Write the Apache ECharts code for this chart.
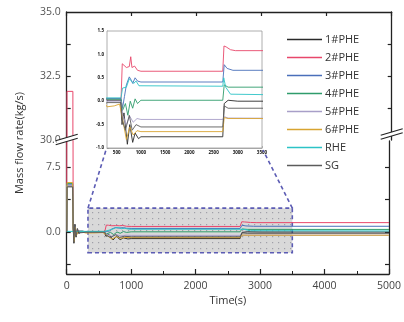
<!DOCTYPE html>
<html><head><meta charset="utf-8">
<script src="https://cdn.jsdelivr.net/npm/echarts@6/dist/echarts.min.js"></script>
<style>html,body{margin:0;padding:0;background:#fff}#c{width:404px;height:322px}</style>
</head><body><div id="c"></div>
<script>
// ---- data (time s, mass flow rate kg/s) ----
const seriesNames = ['1#PHE','2#PHE','3#PHE','4#PHE','5#PHE','6#PHE','RHE','SG'];
const seriesColors = ['#2a2a2a','#e8476b','#4a6fba','#2f9c6b','#a89fc8','#d8a431','#2cc3c6','#5c5c5c'];
const phe1 = [[0,0],[6,5.3],[92,5.3],[100,0.8],[112,-1.3],[128,0.9],[145,-0.6],[165,0.4],[190,-0.2],[230,0.1],[300,0.02],[580,0.02],[610,-0.5],[650,-0.25],[720,-0.92],[770,-0.5],[830,-0.88],[880,-0.68],[950,-0.8],[1000,-0.76],[2690,-0.76],[2720,-0.05],[2800,0.02],[3000,0.0],[5000,0.0]];
const phe2 = [[0,0],[5,31.9],[95,31.9],[100,0.5],[115,-0.8],[130,0.6],[150,-0.3],[180,0.2],[220,0.0],[300,0.05],[590,0.05],[615,0.8],[650,0.78],[700,0.72],[760,0.74],[790,0.95],[815,0.72],[870,0.75],[930,0.66],[1000,0.64],[2690,0.64],[2715,1.18],[2760,1.16],[2850,1.1],[2950,1.08],[5000,1.08]];
const phe3 = [[0,0],[6,5.5],[92,5.5],[100,0.6],[112,-1.0],[128,0.7],[148,-0.4],[170,0.25],[200,-0.05],[300,0.06],[590,0.06],[620,-0.15],[660,0.1],[700,0.35],[760,0.52],[800,0.45],[830,0.38],[880,0.5],[930,0.43],[1000,0.41],[2690,0.41],[2720,0.78],[2780,0.7],[2900,0.66],[5000,0.66]];
const phe4 = [[0,0],[6,5.6],[92,5.6],[100,0.4],[115,-0.9],[130,0.5],[150,-0.3],[180,0.15],[300,0.04],[590,0.04],[620,-0.2],[680,-0.05],[730,-0.3],[780,0.0],[830,-0.15],[880,0.05],[930,-0.05],[1000,0.02],[2690,0.02],[2720,0.35],[2800,0.3],[5000,0.3]];
const phe5 = [[0,0],[6,5.4],[92,5.4],[100,0.5],[113,-0.9],[130,0.5],[150,-0.35],[175,0.2],[300,0.0],[590,0.0],[625,-0.3],[700,-0.5],[770,-0.32],[840,-0.45],[920,-0.37],[1000,-0.39],[2690,-0.39],[2720,-0.33],[2800,-0.36],[5000,-0.37]];
const phe6 = [[0,0],[6,5.7],[92,5.7],[100,0.3],[114,-1.1],[132,0.6],[152,-0.4],[180,0.1],[300,-0.12],[450,-0.1],[560,-0.06],[590,-0.06],[625,-0.4],[700,-0.82],[770,-0.55],[840,-0.72],[920,-0.63],[1000,-0.65],[2690,-0.65],[2720,-0.35],[2800,-0.37],[5000,-0.37]];
const rhe  = [[0,0.07],[300,0.07],[590,0.07],[620,0.28],[700,0.3],[760,0.48],[800,0.52],[850,0.38],[900,0.43],[960,0.33],[1000,0.32],[2690,0.32],[2710,0.5],[2750,0.3],[2850,0.15],[5000,0.12]];
const sg   = [[0,0],[6,5.2],[92,5.2],[100,1.0],[110,-1.2],[126,0.8],[144,-0.5],[166,0.3],[200,-0.1],[300,-0.03],[590,-0.03],[615,-0.4],[680,-0.62],[760,-0.3],[820,-0.62],[900,-0.5],[1000,-0.55],[2690,-0.55],[2720,-0.1],[2800,-0.15],[5000,-0.15]];
const seriesData = [phe1, phe2, phe3, phe4, phe5, phe6, rhe, sg];
const xTicksMain = [0,1000,2000,3000,4000,5000];
const upperLabels = [30, 32.5, 35];
const upperTicks = [31.25, 32.5, 33.75];
const lowerLabels = [0, 7.5];
const lowerTicks = [-3.75, 0, 3.75, 7.5];
const insetXLabels = [500,1000,1500,2000,2500,3000,3500];
const insetYLabels = [-1.0,-0.5,0.0,0.5,1.0,1.5];
const zoomBox = {x0:330, x1:3500, y0:-2.4, y1:2.75};

// ---- layout ----
const FONT = 'Open Sans';
const L = 66.7, R = 12.3;
const UP = {top:12, height:128};
const LOW = {top:141, height:133};
const INSET = {left:107, top:31, width:155, height:117};
const axisLineStyle = {color:'#222', width:1.3};

const pc = document.createElement('canvas'); pc.width = 6; pc.height = 6;
const pctx = pc.getContext('2d');
pctx.fillStyle = '#d9d9d9'; pctx.fillRect(0,0,6,6);
pctx.fillStyle = '#a0a0a8'; pctx.fillRect(2,2,1.2,1.2);

const chart = echarts.init(document.getElementById('c'), null, {renderer:'canvas'});

const fmt1 = v => Number(v).toFixed(1);
const fmt0 = v => String(Math.round(v));
const yBase = (gridIndex, min, max, labels, ticks, showLabel, pos) => ({
  gridIndex, type:'value', min, max, position: pos,
  splitLine:{show:false},
  axisLine:{show:true, onZero:false, lineStyle:axisLineStyle},
  axisTick:{show:true, inside:true, length:4, customValues:ticks, lineStyle:{color:'#222', width:1.2}},
  axisLabel:{show:showLabel, customValues:labels, formatter:fmt1, fontSize:10.5, color:'#555', fontFamily:FONT, margin:6}
});

const option = {
  animation:false,
  backgroundColor:'#fff',
  grid:[
    {left:L, right:R, top:UP.top, height:UP.height},
    {left:L, right:R, top:LOW.top, height:LOW.height},
    {left:INSET.left, top:INSET.top, width:INSET.width, height:INSET.height, show:true, backgroundColor:'#fff', borderColor:'#9a9a9a', borderWidth:0.8, z:5}
  ],
  xAxis:[
    {gridIndex:0, type:'value', min:0, max:5000, interval:1000, position:'top',
     splitLine:{show:false}, axisLine:{show:true, onZero:false, lineStyle:axisLineStyle},
     axisTick:{show:true, inside:true, length:4, lineStyle:{color:'#222', width:1.2}}, axisLabel:{show:false}},
    {gridIndex:1, type:'value', min:0, max:5000, interval:1000, position:'bottom',
     name:'Time(s)', nameLocation:'middle', nameGap:21,
     nameTextStyle:{fontSize:11, color:'#333', fontFamily:FONT},
     splitLine:{show:false}, axisLine:{show:true, onZero:false, lineStyle:axisLineStyle},
     axisTick:{show:true, inside:true, length:5, lineStyle:{color:'#222', width:1.2}},
     minorTick:{show:true, splitNumber:2, length:3, lineStyle:{color:'#222', width:1}},
     axisLabel:{formatter:fmt0, fontSize:10.5, color:'#444', fontFamily:FONT, margin:7}},
    {gridIndex:2, type:'value', min:300, max:3500, position:'bottom',
     splitLine:{show:false}, axisLine:{show:true, onZero:false, lineStyle:{color:'#9a9a9a', width:0.8}},
     axisTick:{show:true, inside:true, length:2, customValues:insetXLabels, lineStyle:{color:'#888', width:0.6}},
     axisLabel:{customValues:insetXLabels, formatter:fmt0, fontSize:4.5, fontWeight:'bold', color:'#111', fontFamily:FONT, margin:2}}
  ],
  yAxis:[
    yBase(0, 30, 35, upperLabels, upperTicks, true, 'left'),
    yBase(0, 30, 35, upperLabels, upperTicks, false, 'right'),
    yBase(1, -(274-232)/8.667, (232-LOW.top)/8.667, lowerLabels, lowerTicks, true, 'left'),
    yBase(1, -(274-232)/8.667, (232-LOW.top)/8.667, lowerLabels, lowerTicks, false, 'right'),
    {gridIndex:2, type:'value', min:-1, max:1.5, interval:0.5, position:'left',
     splitLine:{show:false}, axisLine:{show:true, onZero:false, lineStyle:{color:'#9a9a9a', width:0.8}},
     axisTick:{show:true, inside:true, length:2, lineStyle:{color:'#888', width:0.6}},
     axisLabel:{formatter:fmt1, fontSize:4.5, fontWeight:'bold', color:'#111', fontFamily:FONT, margin:3}}
  ],
  legend:{
    orient:'vertical', left:282, top:29, itemWidth:35, itemHeight:1.6, itemGap:7,
    data:seriesNames, icon:'rect',
    textStyle:{fontSize:11, color:'#333', fontFamily:FONT, padding:[0,0,0,-2]}
  },
  series:[]
};

// zoom highlight box (annotation) on an empty helper series
option.series.push({
  type:'line', name:'__box', xAxisIndex:1, yAxisIndex:2, data:[], z:1, silent:true,
  markArea:{silent:true, data:[[{xAxis:zoomBox.x0, yAxis:zoomBox.y0},{xAxis:zoomBox.x1, yAxis:zoomBox.y1}]],
    itemStyle:{color:{image:pc, repeat:'repeat'}, borderColor:'#5c5cb4', borderWidth:1.6, borderType:[4,3]}}
});

const gridSets = [[0,0],[1,2],[2,4]];
gridSets.forEach(([xi, yi], gi) => {
  seriesNames.forEach((n, i) => {
    option.series.push({
      type:'line', name:n, xAxisIndex:xi, yAxisIndex:yi, data:seriesData[i],
      symbol:'none', clip:true, z: gi===2 ? 6 : 2,
      lineStyle:{width: gi===2 ? 0.9 : 1, color:seriesColors[i]},
      itemStyle:{color:seriesColors[i]}
    });
  });
});

chart.setOption(option);

// decorations: y-axis title, axis-break marks, zoom connectors
const p = (xi, yi, pt) => chart.convertToPixel({xAxisIndex:xi, yAxisIndex:yi}, pt);
const boxTL = p(1,2,[zoomBox.x0, zoomBox.y1]);
const boxTR = p(1,2,[zoomBox.x1, zoomBox.y1]);
const inBL = p(2,4,[300,-1]);
const inBR = p(2,4,[3500,-1]);
const dashStyle = {stroke:'#5c5cb4', lineWidth:1.6, lineDash:[4,3], fill:null};
const breakMark = (cx, cy) => ([
  {type:'polygon', shape:{points:[[cx-10,cy+5],[cx+10,cy-1],[cx+10,cy-5],[cx-10,cy+1]]}, style:{fill:'#fff'}, z:50},
  {type:'line', shape:{x1:cx-11, y1:cy+5.3, x2:cx+11, y2:cy-1.3}, style:{stroke:'#222', lineWidth:1.2}, z:51},
  {type:'line', shape:{x1:cx-11, y1:cy+1.3, x2:cx+11, y2:cy-5.3}, style:{stroke:'#222', lineWidth:1.2}, z:51}
]);
const W = 404;
chart.setOption({
  graphic:[
    {type:'text', x:20, y:143, rotation:Math.PI/2, z:10,
     style:{text:'Mass flow rate(kg/s)', fontSize:11, fill:'#333', fontFamily:FONT, align:'center', verticalAlign:'middle'}},
    ...breakMark(L, 139.5),
    ...breakMark(W-R, 134),
    {type:'line', shape:{x1:boxTL[0], y1:boxTL[1], x2:inBL[0]-1, y2:inBL[1]+2}, style:dashStyle, z:20},
    {type:'line', shape:{x1:boxTR[0], y1:boxTR[1], x2:inBR[0]+1, y2:inBR[1]+2}, style:dashStyle, z:20}
  ]
});
</script></body></html>
